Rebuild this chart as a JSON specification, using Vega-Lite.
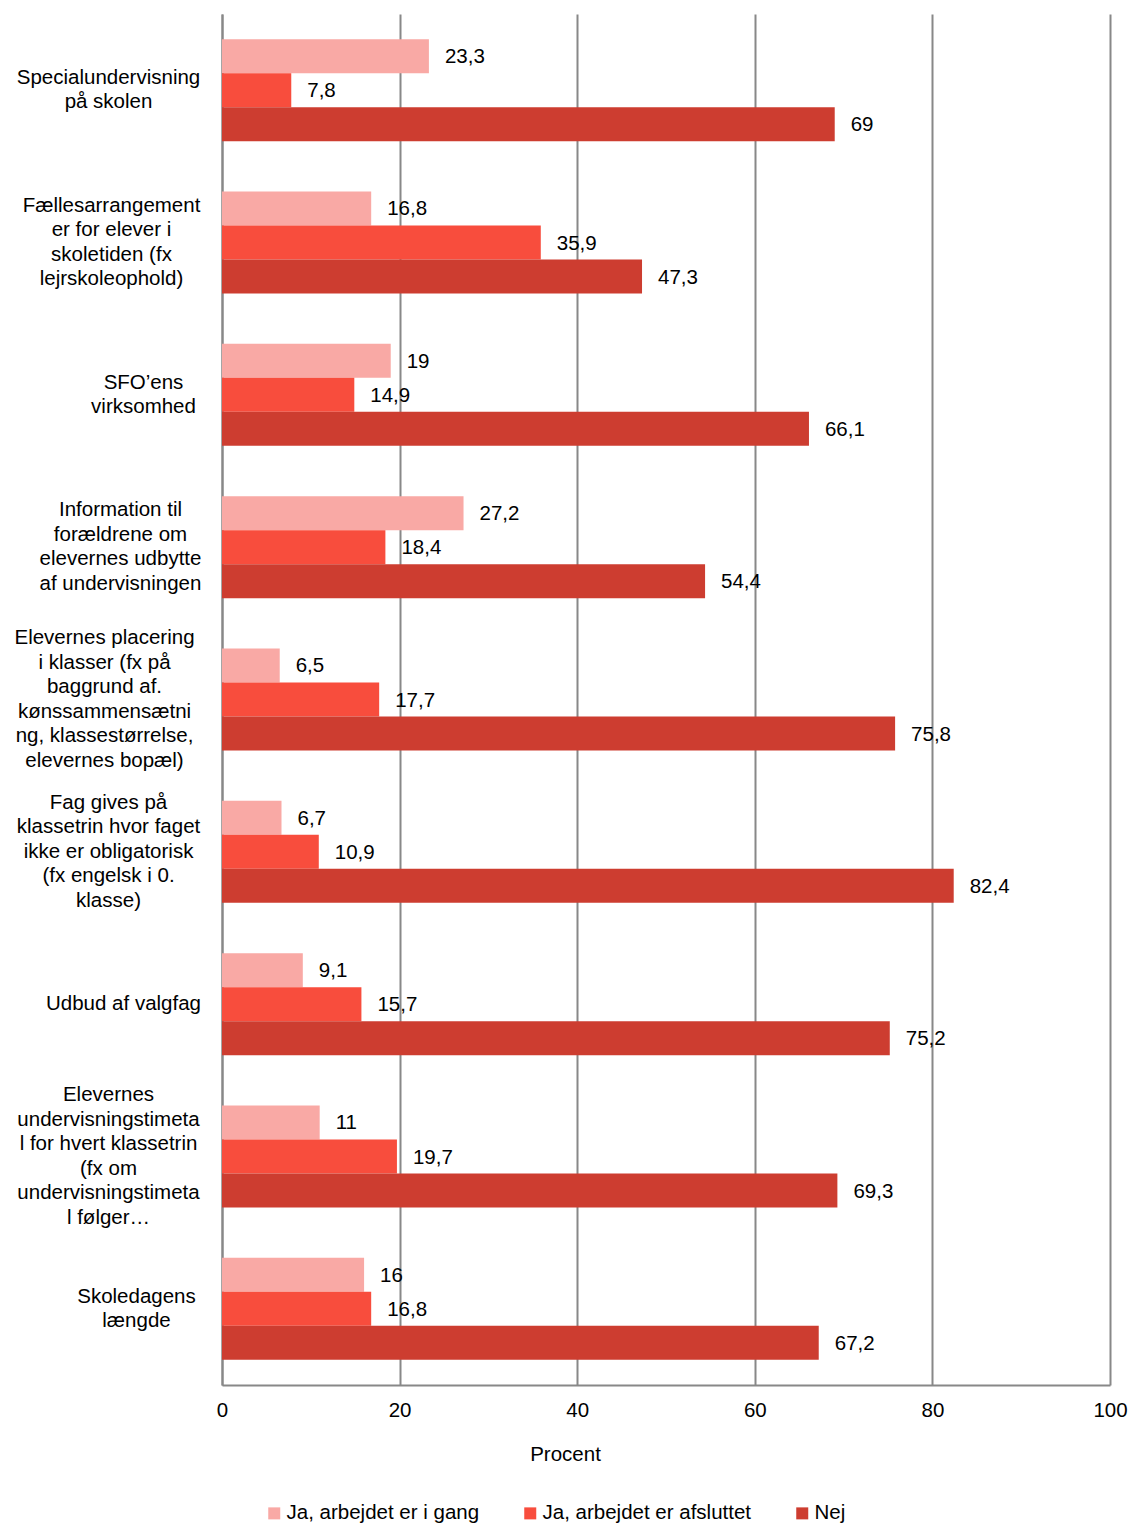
{
  "$schema": "https://vega.github.io/schema/vega-lite/v6.json",
  "autosize": {"type": "none"},
  "padding": {"left": 222, "top": 14, "right": 21, "bottom": 139},
  "width": 888,
  "height": 1371,
  "background": "white",
  "config": {
    "font": "Liberation Sans",
    "view": {"stroke": null}
  },
  "data": {
    "values": [
      {"cat": "Specialundervisning|på skolen", "serie": "Ja, arbejdet er i gang", "value": 23.3},
      {"cat": "Specialundervisning|på skolen", "serie": "Ja, arbejdet er afsluttet", "value": 7.8},
      {"cat": "Specialundervisning|på skolen", "serie": "Nej", "value": 69},
      {"cat": "Fællesarrangement|er for elever i|skoletiden (fx|lejrskoleophold)", "serie": "Ja, arbejdet er i gang", "value": 16.8},
      {"cat": "Fællesarrangement|er for elever i|skoletiden (fx|lejrskoleophold)", "serie": "Ja, arbejdet er afsluttet", "value": 35.9},
      {"cat": "Fællesarrangement|er for elever i|skoletiden (fx|lejrskoleophold)", "serie": "Nej", "value": 47.3},
      {"cat": "SFO’ens|virksomhed", "serie": "Ja, arbejdet er i gang", "value": 19},
      {"cat": "SFO’ens|virksomhed", "serie": "Ja, arbejdet er afsluttet", "value": 14.9},
      {"cat": "SFO’ens|virksomhed", "serie": "Nej", "value": 66.1},
      {"cat": "Information til|forældrene om|elevernes udbytte|af undervisningen", "serie": "Ja, arbejdet er i gang", "value": 27.2},
      {"cat": "Information til|forældrene om|elevernes udbytte|af undervisningen", "serie": "Ja, arbejdet er afsluttet", "value": 18.4},
      {"cat": "Information til|forældrene om|elevernes udbytte|af undervisningen", "serie": "Nej", "value": 54.4},
      {"cat": "Elevernes placering|i klasser (fx på|baggrund af.|kønssammensætni|ng, klassestørrelse,|elevernes bopæl)", "serie": "Ja, arbejdet er i gang", "value": 6.5},
      {"cat": "Elevernes placering|i klasser (fx på|baggrund af.|kønssammensætni|ng, klassestørrelse,|elevernes bopæl)", "serie": "Ja, arbejdet er afsluttet", "value": 17.7},
      {"cat": "Elevernes placering|i klasser (fx på|baggrund af.|kønssammensætni|ng, klassestørrelse,|elevernes bopæl)", "serie": "Nej", "value": 75.8},
      {"cat": "Fag gives på|klassetrin hvor faget|ikke er obligatorisk|(fx engelsk i 0.|klasse)", "serie": "Ja, arbejdet er i gang", "value": 6.7},
      {"cat": "Fag gives på|klassetrin hvor faget|ikke er obligatorisk|(fx engelsk i 0.|klasse)", "serie": "Ja, arbejdet er afsluttet", "value": 10.9},
      {"cat": "Fag gives på|klassetrin hvor faget|ikke er obligatorisk|(fx engelsk i 0.|klasse)", "serie": "Nej", "value": 82.4},
      {"cat": "Udbud af valgfag", "serie": "Ja, arbejdet er i gang", "value": 9.1},
      {"cat": "Udbud af valgfag", "serie": "Ja, arbejdet er afsluttet", "value": 15.7},
      {"cat": "Udbud af valgfag", "serie": "Nej", "value": 75.2},
      {"cat": "Elevernes|undervisningstimeta|l for hvert klassetrin|(fx om|undervisningstimeta|l følger…", "serie": "Ja, arbejdet er i gang", "value": 11},
      {"cat": "Elevernes|undervisningstimeta|l for hvert klassetrin|(fx om|undervisningstimeta|l følger…", "serie": "Ja, arbejdet er afsluttet", "value": 19.7},
      {"cat": "Elevernes|undervisningstimeta|l for hvert klassetrin|(fx om|undervisningstimeta|l følger…", "serie": "Nej", "value": 69.3},
      {"cat": "Skoledagens|længde", "serie": "Ja, arbejdet er i gang", "value": 16},
      {"cat": "Skoledagens|længde", "serie": "Ja, arbejdet er afsluttet", "value": 16.8},
      {"cat": "Skoledagens|længde", "serie": "Nej", "value": 67.2}
    ]
  },
  "transform": [
    {"calculate": "replace(toString(datum.value), '.', ',')", "as": "label"}
  ],
  "encoding": {
    "y": {
      "field": "cat",
      "type": "nominal",
      "sort": null,
      "scale": {"paddingInner": 0.33, "paddingOuter": 0.165},
      "axis": {
        "title": null,
        "ticks": false,
        "domainColor": "#888888",
        "domainWidth": 2,
        "labelExpr": "split(datum.value, '|')",
        "labelAlign": "center",
        "labelBaseline": "middle",
        "labelFont": "Liberation Sans",
        "labelFontSize": 20.5,
        "labelLineHeight": 24.5,
        "labelColor": "#000000",
        "labelLimit": 0,
        "labelOffset": {
          "condition": [
            {"test": "length(split(datum.value, '|')) == 2", "value": -12.25},
            {"test": "length(split(datum.value, '|')) == 4", "value": -36.75},
            {"test": "length(split(datum.value, '|')) == 5", "value": -49},
            {"test": "length(split(datum.value, '|')) == 6", "value": -61.25}
          ],
          "value": 0
        },
        "labelPadding": {
          "condition": [
            {"test": "indexof(datum.value, 'SFO') == 0", "value": 79},
            {"test": "indexof(datum.value, 'Skoledagens') == 0", "value": 86},
            {"test": "indexof(datum.value, 'Udbud') == 0", "value": 99},
            {"test": "indexof(datum.value, 'Information') == 0", "value": 102},
            {"test": "indexof(datum.value, 'Fælles') == 0", "value": 111},
            {"test": "indexof(datum.value, 'Elevernes placering') == 0", "value": 118}
          ],
          "value": 114
        }
      }
    },
    "yOffset": {
      "field": "serie",
      "type": "nominal",
      "sort": ["Ja, arbejdet er i gang", "Ja, arbejdet er afsluttet", "Nej"],
      "scale": {"paddingInner": 0, "paddingOuter": 0}
    },
    "x": {
      "field": "value",
      "type": "quantitative",
      "scale": {"domain": [0, 100], "nice": false},
      "axis": {
        "title": "Procent",
        "titleFont": "Liberation Sans",
        "titleFontSize": 20.5,
        "titleFontWeight": "normal",
        "titleColor": "#000000",
        "titleX": 343,
        "titleY": 59,
        "titleBaseline": "top",
        "titleAnchor": "start",
        "titleAlign": "center",
        "values": [0, 20, 40, 60, 80, 100],
        "ticks": false,
        "labelPadding": 15,
        "labelFont": "Liberation Sans",
        "labelFontSize": 20.5,
        "labelColor": "#000000",
        "labelFlush": false,
        "domainColor": "#888888",
        "domainWidth": 2,
        "grid": true,
        "gridColor": "#888888",
        "gridWidth": 2
      }
    }
  },
  "layer": [
    {
      "mark": {"type": "bar"},
      "encoding": {
        "color": {
          "field": "serie",
          "type": "nominal",
          "sort": ["Ja, arbejdet er i gang", "Ja, arbejdet er afsluttet", "Nej"],
          "scale": {
            "domain": ["Ja, arbejdet er i gang", "Ja, arbejdet er afsluttet", "Nej"],
            "range": ["#F9A9A5", "#F84D3D", "#CD3D30"]
          },
          "legend": {
            "title": null,
            "orient": "none",
            "direction": "horizontal",
            "legendX": 42,
            "legendY": 1489,
            "symbolType": "square",
            "symbolSize": 144,
            "symbolStrokeWidth": 0,
            "labelFont": "Liberation Sans",
            "labelFontSize": 20.5,
            "labelColor": "#000000",
            "labelOffset": 2,
            "columnPadding": 40,
            "labelLimit": 0
          }
        }
      }
    },
    {
      "mark": {"type": "text", "align": "left", "baseline": "middle", "dx": 16, "dy": 1, "font": "Liberation Sans", "fontSize": 20.5, "color": "#000000"},
      "encoding": {
        "text": {"field": "label", "type": "nominal"}
      }
    }
  ]
}
